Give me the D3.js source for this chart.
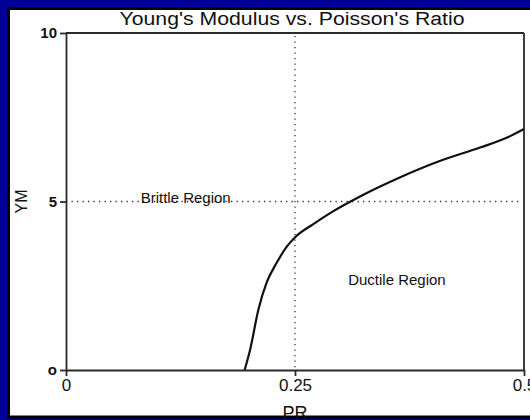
<!DOCTYPE html>
<html>
<head>
<meta charset="utf-8">
<script src="https://cdn.jsdelivr.net/npm/d3@7"></script>
<style>
  html, body { margin: 0; padding: 0; background: #000096; }
  svg { display: block; }
  text { font-family: "Liberation Sans", Arial, Helvetica, sans-serif; fill: #111; }
</style>
</head>
<body>
<svg id="chart" width="530" height="420"></svg>
<script>
// ---- Data ----
const prValues = [0.195, 0.201, 0.210, 0.219, 0.230, 0.241, 0.251, 0.270, 0.291, 0.321, 0.365, 0.408, 0.452, 0.481, 0.500];
const ymValues = [0.00, 0.60, 1.79, 2.59, 3.18, 3.66, 3.96, 4.33, 4.70, 5.15, 5.72, 6.20, 6.60, 6.89, 7.15];
const xTicks = [0, 0.25, 0.5];
const xTickLabels = ["0", "0.25", "0.5"];
const yTicks = [0, 5, 10];
const yTickLabels = ["o", "5", "10"];
const refPR = 0.25;
const refYM = 5;
const titleText = "Young's Modulus vs. Poisson's Ratio";
const xLabel = "PR";
const yLabel = "YM";
const regionLabels = [
  { text: "Brittle Region", pr: 0.0815, ym: 4.96 },
  { text: "Ductile Region", pr: 0.308, ym: 2.52 }
];

// ---- Layout ----
const svg = d3.select("#chart");
const W = 530, H = 420;
const plot = { left: 66, right: 524, top: 33, bottom: 370 };

svg.append("rect").attr("x", 0).attr("y", 0).attr("width", W).attr("height", H).attr("fill", "#000096");
svg.append("rect").attr("x", 8.5).attr("y", 8.5).attr("width", W).attr("height", 408.5)
  .attr("fill", "#ffffff").attr("stroke", "#000").attr("stroke-width", 3);

const x = d3.scaleLinear().domain([0, 0.5]).range([plot.left, plot.right]);
const y = d3.scaleLinear().domain([0, 10]).range([plot.bottom, plot.top]);

const axisColor = "#2a2a2a";

// reference dotted lines
svg.append("line")
  .attr("x1", x(0)).attr("x2", x(0.5) - 5)
  .attr("y1", y(refYM)).attr("y2", y(refYM))
  .attr("stroke", "#333").attr("stroke-width", 1.3).attr("stroke-dasharray", "1.3,4.2");
svg.append("line")
  .attr("x1", x(refPR)).attr("x2", x(refPR))
  .attr("y1", y(10) + 3).attr("y2", y(0))
  .attr("stroke", "#333").attr("stroke-width", 1.3).attr("stroke-dasharray", "1.3,4.2");

// frame (top & right)
svg.append("line").attr("x1", x(0)).attr("x2", x(0.5)).attr("y1", y(10)).attr("y2", y(10))
  .attr("stroke", axisColor).attr("stroke-width", 1.8);
svg.append("line").attr("x1", x(0.5)).attr("x2", x(0.5)).attr("y1", y(10)).attr("y2", y(0))
  .attr("stroke", axisColor).attr("stroke-width", 1.8);

// x axis
const xAxis = d3.axisBottom(x).tickValues(xTicks).tickFormat((d, i) => xTickLabels[i]).tickSize(6).tickSizeOuter(0).tickPadding(3);
const gx = svg.append("g").attr("transform", `translate(0,${plot.bottom})`).call(xAxis);
gx.select(".domain").attr("stroke", axisColor).attr("stroke-width", 1.8);
gx.selectAll(".tick line").attr("stroke", axisColor).attr("stroke-width", 1.8);
gx.selectAll(".tick text").attr("font-size", 17).attr("fill", "#111")
  .style("font-family", '"Liberation Sans", Arial, sans-serif');

// y axis
const yAxis = d3.axisLeft(y).tickValues(yTicks).tickFormat((d, i) => yTickLabels[i]).tickSize(6).tickSizeOuter(0).tickPadding(3);
const gy = svg.append("g").attr("transform", `translate(${plot.left},0)`).call(yAxis);
gy.select(".domain").attr("stroke", axisColor).attr("stroke-width", 1.8);
gy.selectAll(".tick line").attr("stroke", axisColor).attr("stroke-width", 1.8);
gy.selectAll(".tick text").attr("font-size", 15).attr("font-weight", "bold").attr("fill", "#222")
  .style("font-family", '"Liberation Sans", Arial, sans-serif');

// curve
const pts = prValues.map((p, i) => [p, ymValues[i]]);
const line = d3.line().x(d => x(d[0])).y(d => y(d[1])).curve(d3.curveMonotoneX);
svg.append("path").datum(pts).attr("d", line)
  .attr("fill", "none").attr("stroke", "#111").attr("stroke-width", 2.2);

// region labels
regionLabels.forEach(r => {
  svg.append("text").attr("x", x(r.pr)).attr("y", y(r.ym))
    .attr("font-size", 15).text(r.text);
});

// title
svg.append("text").attr("x", 292).attr("y", 25).attr("text-anchor", "middle")
  .attr("font-size", 18).attr("textLength", 345).attr("lengthAdjust", "spacingAndGlyphs")
  .text(titleText);

// axis labels
svg.append("text").attr("x", x(0.25)).attr("y", 419).attr("text-anchor", "middle")
  .attr("font-size", 18).text(xLabel);
svg.append("text").attr("transform", `translate(27,${y(5)}) rotate(-90)`).attr("text-anchor", "middle")
  .attr("font-size", 16).text(yLabel);
</script>
</body>
</html>
